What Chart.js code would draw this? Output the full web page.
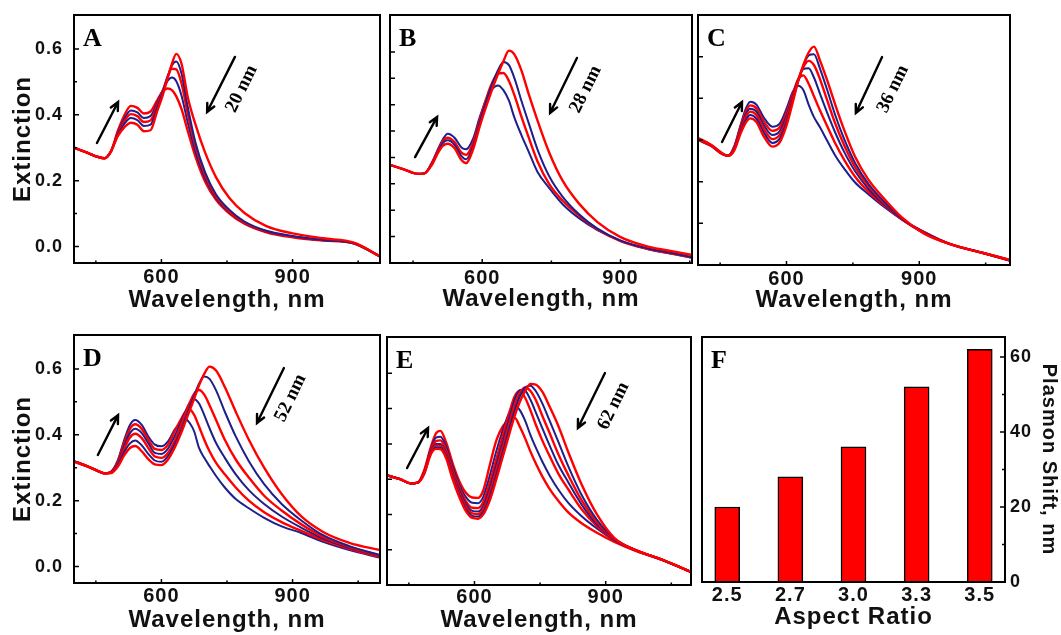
<!DOCTYPE html>
<html>
<head>
<meta charset="utf-8">
<script src="https://cdn.jsdelivr.net/npm/chart.js@4.4.1/dist/chart.umd.min.js"></script>
<style>
  body { margin: 0; background: #fff; }
  #fig { position: relative; width: 1061px; height: 635px; overflow: hidden; }
  canvas { position: absolute; }
</style>
</head>
<body>
<div id="fig">
  <canvas id="pA" width="386" height="318" style="left:0;top:0"></canvas>
  <canvas id="pB" width="310" height="318" style="left:386px;top:0"></canvas>
  <canvas id="pC" width="365" height="318" style="left:696px;top:0"></canvas>
  <canvas id="pD" width="386" height="315" style="left:0;top:320px"></canvas>
  <canvas id="pE" width="310" height="315" style="left:386px;top:320px"></canvas>
  <canvas id="pF" width="365" height="315" style="left:696px;top:320px"></canvas>
</div>
<script>
// tick positions
const wlTicks = [450, 600, 750, 900, 1050];
const wlLabeled = [600, 900];
const extTicks = [0, 0.1, 0.2, 0.3, 0.4, 0.5, 0.6];
const bTicks = [0.1, 0.2, 0.3, 0.4, 0.5, 0.6, 0.7, 0.8];
const cTicks = [0.1, 0.2, 0.3, 0.4, 0.5];
const eTicks = [0.1, 0.2, 0.3, 0.4, 0.5, 0.6];

// panel A spectra
const wlA = [400, 430, 455, 470, 485, 500, 515, 530, 545, 560, 575, 590, 602, 614, 624, 634, 646, 660, 678, 700, 725, 755, 790, 840, 900, 970, 1040, 1100];
const A1 = [0.300, 0.285, 0.272, 0.268, 0.290, 0.335, 0.362, 0.376, 0.370, 0.350, 0.353, 0.410, 0.455, 0.510, 0.555, 0.585, 0.555, 0.455, 0.370, 0.285, 0.210, 0.148, 0.102, 0.062, 0.040, 0.025, 0.012, -0.030];
const A2 = [0.300, 0.285, 0.272, 0.268, 0.290, 0.338, 0.372, 0.390, 0.384, 0.366, 0.370, 0.420, 0.463, 0.515, 0.550, 0.562, 0.525, 0.425, 0.315, 0.225, 0.158, 0.112, 0.076, 0.048, 0.032, 0.020, 0.010, -0.030];
const A3 = [0.300, 0.285, 0.272, 0.268, 0.290, 0.342, 0.380, 0.402, 0.396, 0.378, 0.383, 0.428, 0.468, 0.515, 0.540, 0.538, 0.495, 0.405, 0.305, 0.218, 0.152, 0.107, 0.073, 0.046, 0.030, 0.020, 0.010, -0.030];
const A4 = [0.300, 0.285, 0.272, 0.268, 0.290, 0.346, 0.388, 0.413, 0.407, 0.390, 0.396, 0.435, 0.472, 0.503, 0.513, 0.502, 0.458, 0.378, 0.288, 0.207, 0.147, 0.104, 0.071, 0.045, 0.030, 0.019, 0.010, -0.030];
const A5 = [0.300, 0.285, 0.272, 0.268, 0.290, 0.350, 0.398, 0.427, 0.421, 0.404, 0.410, 0.443, 0.470, 0.480, 0.475, 0.456, 0.417, 0.352, 0.272, 0.197, 0.142, 0.101, 0.069, 0.043, 0.028, 0.018, 0.010, -0.030];

// panel B
const wlB = [400, 430, 460, 475, 490, 505, 515, 525, 540, 555, 565, 580, 595, 610, 622, 634, 646, 658, 670, 685, 700, 720, 745, 775, 810, 850, 900, 960, 1020, 1055];
const B1 = [0.372, 0.355, 0.338, 0.340, 0.370, 0.420, 0.445, 0.452, 0.435, 0.390, 0.378, 0.430, 0.520, 0.600, 0.660, 0.715, 0.765, 0.805, 0.790, 0.730, 0.645, 0.540, 0.420, 0.310, 0.225, 0.155, 0.098, 0.062, 0.042, 0.030];
const B2 = [0.372, 0.355, 0.338, 0.340, 0.372, 0.425, 0.455, 0.465, 0.448, 0.405, 0.393, 0.440, 0.535, 0.620, 0.680, 0.730, 0.762, 0.750, 0.700, 0.615, 0.535, 0.430, 0.330, 0.250, 0.185, 0.130, 0.085, 0.055, 0.035, 0.022];
const B3 = [0.372, 0.355, 0.338, 0.340, 0.375, 0.430, 0.462, 0.475, 0.458, 0.418, 0.410, 0.455, 0.545, 0.630, 0.685, 0.718, 0.720, 0.690, 0.635, 0.555, 0.480, 0.385, 0.300, 0.235, 0.180, 0.128, 0.083, 0.053, 0.033, 0.021];
const B4 = [0.372, 0.355, 0.338, 0.340, 0.378, 0.435, 0.470, 0.490, 0.475, 0.438, 0.431, 0.470, 0.555, 0.625, 0.660, 0.673, 0.655, 0.615, 0.550, 0.485, 0.425, 0.345, 0.285, 0.222, 0.170, 0.125, 0.085, 0.052, 0.032, 0.020];

// panel C
const wlC = [400, 430, 455, 468, 482, 496, 508, 518, 532, 548, 568, 585, 600, 614, 626, 638, 650, 662, 676, 692, 710, 730, 755, 785, 820, 860, 910, 970, 1040, 1105];
const C1 = [0.305, 0.288, 0.268, 0.262, 0.275, 0.315, 0.342, 0.352, 0.343, 0.310, 0.284, 0.295, 0.335, 0.390, 0.440, 0.480, 0.510, 0.524, 0.490, 0.443, 0.385, 0.325, 0.260, 0.205, 0.160, 0.115, 0.076, 0.050, 0.030, 0.012];
const C2 = [0.304, 0.288, 0.268, 0.262, 0.277, 0.319, 0.348, 0.360, 0.351, 0.319, 0.293, 0.304, 0.343, 0.395, 0.440, 0.478, 0.503, 0.506, 0.470, 0.420, 0.360, 0.303, 0.245, 0.195, 0.153, 0.112, 0.077, 0.050, 0.030, 0.012];
const C3 = [0.303, 0.287, 0.267, 0.262, 0.279, 0.323, 0.355, 0.368, 0.360, 0.328, 0.302, 0.313, 0.350, 0.400, 0.442, 0.475, 0.490, 0.480, 0.445, 0.395, 0.340, 0.288, 0.235, 0.190, 0.150, 0.111, 0.077, 0.050, 0.030, 0.012];
const C4 = [0.302, 0.287, 0.267, 0.262, 0.281, 0.327, 0.362, 0.375, 0.368, 0.337, 0.312, 0.322, 0.358, 0.405, 0.445, 0.470, 0.472, 0.450, 0.410, 0.365, 0.318, 0.272, 0.225, 0.183, 0.146, 0.110, 0.078, 0.050, 0.030, 0.011];
const C5 = [0.301, 0.286, 0.266, 0.262, 0.283, 0.331, 0.368, 0.383, 0.376, 0.346, 0.322, 0.331, 0.366, 0.410, 0.445, 0.455, 0.435, 0.405, 0.370, 0.333, 0.292, 0.253, 0.212, 0.176, 0.143, 0.110, 0.079, 0.050, 0.030, 0.011];
const C6 = [0.300, 0.285, 0.266, 0.262, 0.285, 0.335, 0.375, 0.392, 0.385, 0.355, 0.332, 0.340, 0.375, 0.415, 0.430, 0.420, 0.385, 0.355, 0.330, 0.298, 0.263, 0.232, 0.198, 0.170, 0.140, 0.110, 0.080, 0.050, 0.030, 0.010];

// panel D
const wlD = [400, 430, 455, 470, 485, 500, 515, 528, 540, 555, 570, 585, 600, 615, 630, 645, 655, 665, 675, 686, 698, 710, 725, 745, 770, 800, 835, 875, 920, 970, 1030, 1100];
const D1 = [0.318, 0.304, 0.290, 0.283, 0.284, 0.303, 0.338, 0.360, 0.366, 0.350, 0.326, 0.310, 0.308, 0.325, 0.360, 0.405, 0.440, 0.475, 0.510, 0.550, 0.585, 0.607, 0.595, 0.545, 0.470, 0.385, 0.300, 0.220, 0.152, 0.105, 0.072, 0.050];
const D2 = [0.319, 0.304, 0.290, 0.283, 0.285, 0.308, 0.348, 0.374, 0.383, 0.368, 0.342, 0.322, 0.318, 0.335, 0.370, 0.415, 0.450, 0.485, 0.520, 0.555, 0.577, 0.570, 0.535, 0.470, 0.395, 0.320, 0.250, 0.190, 0.140, 0.095, 0.062, 0.035];
const D3 = [0.319, 0.305, 0.290, 0.283, 0.286, 0.312, 0.358, 0.392, 0.403, 0.390, 0.360, 0.334, 0.330, 0.345, 0.380, 0.430, 0.465, 0.498, 0.525, 0.536, 0.522, 0.490, 0.445, 0.385, 0.325, 0.270, 0.215, 0.170, 0.128, 0.090, 0.060, 0.033];
const D4 = [0.320, 0.305, 0.290, 0.283, 0.287, 0.315, 0.367, 0.405, 0.418, 0.405, 0.374, 0.345, 0.342, 0.358, 0.395, 0.440, 0.472, 0.498, 0.508, 0.495, 0.460, 0.420, 0.375, 0.330, 0.280, 0.232, 0.190, 0.152, 0.118, 0.085, 0.057, 0.031];
const D5 = [0.320, 0.305, 0.290, 0.283, 0.288, 0.318, 0.376, 0.418, 0.432, 0.418, 0.385, 0.357, 0.354, 0.370, 0.410, 0.448, 0.470, 0.476, 0.460, 0.425, 0.385, 0.350, 0.315, 0.280, 0.240, 0.200, 0.165, 0.135, 0.108, 0.080, 0.054, 0.029];
const D6 = [0.320, 0.305, 0.290, 0.283, 0.288, 0.322, 0.385, 0.430, 0.445, 0.430, 0.395, 0.370, 0.365, 0.380, 0.415, 0.440, 0.448, 0.435, 0.410, 0.360, 0.330, 0.305, 0.275, 0.240, 0.205, 0.177, 0.148, 0.122, 0.102, 0.075, 0.050, 0.027];

// panel E
const wlE = [400, 430, 455, 470, 485, 500, 512, 522, 535, 550, 565, 580, 595, 608, 620, 635, 650, 665, 680, 692, 704, 716, 728, 740, 755, 772, 792, 815, 845, 880, 920, 970, 1030, 1095];
const E1 = [0.311, 0.300, 0.288, 0.290, 0.315, 0.370, 0.386, 0.385, 0.360, 0.300, 0.250, 0.210, 0.190, 0.188, 0.200, 0.240, 0.300, 0.365, 0.430, 0.480, 0.520, 0.550, 0.570, 0.568, 0.548, 0.505, 0.450, 0.375, 0.285, 0.200, 0.133, 0.098, 0.071, 0.037];
const E2 = [0.311, 0.300, 0.288, 0.290, 0.316, 0.372, 0.390, 0.390, 0.365, 0.306, 0.256, 0.216, 0.196, 0.194, 0.207, 0.250, 0.312, 0.378, 0.445, 0.495, 0.535, 0.560, 0.565, 0.550, 0.515, 0.465, 0.405, 0.335, 0.255, 0.185, 0.132, 0.098, 0.071, 0.037];
const E3 = [0.311, 0.300, 0.288, 0.290, 0.317, 0.375, 0.395, 0.395, 0.370, 0.312, 0.262, 0.223, 0.203, 0.201, 0.215, 0.262, 0.326, 0.392, 0.460, 0.510, 0.545, 0.560, 0.550, 0.525, 0.480, 0.430, 0.370, 0.310, 0.240, 0.178, 0.130, 0.098, 0.071, 0.037];
const E4 = [0.311, 0.300, 0.288, 0.290, 0.318, 0.378, 0.400, 0.400, 0.375, 0.318, 0.270, 0.230, 0.210, 0.208, 0.224, 0.275, 0.340, 0.407, 0.475, 0.525, 0.553, 0.550, 0.525, 0.490, 0.445, 0.395, 0.340, 0.290, 0.228, 0.172, 0.128, 0.098, 0.071, 0.037];
const E5 = [0.311, 0.300, 0.288, 0.290, 0.320, 0.382, 0.408, 0.410, 0.383, 0.325, 0.277, 0.238, 0.219, 0.218, 0.235, 0.290, 0.357, 0.425, 0.490, 0.535, 0.550, 0.530, 0.495, 0.455, 0.410, 0.365, 0.315, 0.270, 0.215, 0.167, 0.127, 0.098, 0.071, 0.037];
const E6 = [0.311, 0.300, 0.288, 0.290, 0.322, 0.386, 0.418, 0.420, 0.393, 0.335, 0.285, 0.250, 0.233, 0.232, 0.250, 0.310, 0.380, 0.440, 0.490, 0.508, 0.495, 0.465, 0.425, 0.390, 0.350, 0.310, 0.270, 0.232, 0.195, 0.160, 0.126, 0.097, 0.071, 0.037];
const E7 = [0.311, 0.300, 0.288, 0.290, 0.325, 0.390, 0.430, 0.437, 0.405, 0.345, 0.295, 0.262, 0.248, 0.247, 0.268, 0.340, 0.410, 0.450, 0.470, 0.474, 0.448, 0.415, 0.378, 0.345, 0.308, 0.272, 0.238, 0.205, 0.175, 0.148, 0.122, 0.096, 0.071, 0.037];

// panel F
const aspectRatios = ['2.5', '2.7', '3.0', '3.3', '3.5'];
const plasmonShift = [20, 28, 36, 52, 62];
const shiftTicks = [0, 10, 20, 30, 40, 50, 60];

const RED = '#ff0000';
const BLUE = '#1d1f8c';
const SANS = '"Liberation Sans", Arial, sans-serif';
const SERIF = '"Liberation Serif", "Times New Roman", serif';
const INK = '#111';

// box, inner ticks, panel letter and arrows
const framePlugin = {
  id: 'frame',
  beforeDraw(chart) {
    chart.ctx.letterSpacing = '1px';
  },
  afterDraw(chart, args, o) {
    const { ctx, chartArea: a, scales } = chart;
    ctx.save();
    ctx.letterSpacing = '0px';
    ctx.strokeStyle = '#000';
    ctx.fillStyle = '#000';
    ctx.lineWidth = 1.5;
    ctx.beginPath();
    if (o.xMarks) {
      scales.x.ticks.forEach((t) => {
        const px = scales.x.getPixelForValue(t.value);
        const len = wlLabeled.includes(t.value) ? 4 : 2.5;
        ctx.moveTo(px, a.bottom);
        ctx.lineTo(px, a.bottom - len);
      });
    }
    const ys = scales.y;
    ys.ticks.forEach((t) => {
      const py = ys.getPixelForValue(t.value);
      const len = o.yMinor && o.yMinor(t.value) ? 3 : 5;
      if (ys.position === 'right') {
        ctx.moveTo(a.right, py);
        ctx.lineTo(a.right - len, py);
      } else {
        ctx.moveTo(a.left, py);
        ctx.lineTo(a.left + len, py);
      }
    });
    ctx.stroke();

    ctx.lineWidth = 2;
    ctx.strokeRect(a.left, a.top, a.width, a.height);

    ctx.font = `bold 26px ${SERIF}`;
    ctx.textBaseline = 'alphabetic';
    ctx.textAlign = 'left';
    ctx.fillText(o.letter, a.left + 9, a.top + 31);

    ctx.lineWidth = 2.4;
    ctx.lineCap = 'round';
    (o.arrows || []).forEach(([fx1, fy1, fx2, fy2]) => {
      const x1 = a.left + fx1 * a.width, y1 = a.top + fy1 * a.height;
      const x2 = a.left + fx2 * a.width, y2 = a.top + fy2 * a.height;
      const ang = Math.atan2(y2 - y1, x2 - x1);
      ctx.beginPath();
      ctx.moveTo(x1, y1);
      ctx.lineTo(x2, y2);
      ctx.moveTo(x2 - 9 * Math.cos(ang - 0.45), y2 - 9 * Math.sin(ang - 0.45));
      ctx.lineTo(x2, y2);
      ctx.lineTo(x2 - 9 * Math.cos(ang + 0.45), y2 - 9 * Math.sin(ang + 0.45));
      ctx.stroke();
    });

    if (o.note) {
      ctx.translate(a.left + o.note.fx * a.width, a.top + o.note.fy * a.height);
      ctx.rotate(-64 * Math.PI / 180);
      ctx.font = `bold 19px ${SERIF}`;
      ctx.textAlign = 'center';
      ctx.textBaseline = 'middle';
      ctx.fillText(o.note.text, 0, 0);
    }
    ctx.restore();
  }
};

function spectrum(wl, vals, i) {
  const red = i % 2 === 0;
  return {
    data: wl.map((w, k) => ({ x: w, y: vals[k] })),
    borderColor: red ? RED : BLUE,
    borderWidth: red ? 2.4 : 2,
    pointRadius: 0,
    cubicInterpolationMode: 'monotone',
    fill: false
  };
}

function makeSpectra(id, wl, series, o) {
  new Chart(document.getElementById(id), {
    type: 'line',
    data: { datasets: series.map((vals, i) => spectrum(wl, vals, i)) },
    options: {
      responsive: false,
      animation: false,
      events: [],
      layout: { padding: o.pad },
      plugins: {
        legend: { display: false },
        tooltip: { enabled: false },
        frame: o.frame
      },
      scales: {
        x: {
          type: 'linear',
          min: 400,
          max: o.xMax,
          grid: { display: false, drawTicks: false },
          border: { display: false },
          afterBuildTicks: (s) => { s.ticks = wlTicks.map((v) => ({ value: v })); },
          afterFit: (s) => { s.height = o.xHeight; s.paddingLeft = 0; s.paddingRight = 0; },
          ticks: {
            autoSkip: false,
            maxRotation: 0,
            padding: o.xTickPad,
            color: INK,
            font: { family: SANS, size: 20, weight: 'bold' },
            callback: (v) => (wlLabeled.includes(v) ? String(v) : '')
          },
          title: {
            display: true,
            text: 'Wavelength, nm',
            color: INK,
            font: { family: SANS, size: 24, weight: 'bold' },
            padding: { top: 0, bottom: o.xTitlePad }
          }
        },
        y: {
          min: o.yMin,
          max: o.yMax,
          grid: { display: false, drawTicks: false },
          border: { display: false },
          afterBuildTicks: (s) => { s.ticks = o.yTicks.map((v) => ({ value: v })); },
          afterFit: (s) => { s.width = o.yWidth; s.paddingTop = 0; s.paddingBottom = 0; },
          ticks: {
            display: o.yLabels,
            autoSkip: false,
            padding: 11,
            color: INK,
            font: { family: SANS, size: 18, weight: 'bold' },
            callback: (v) => (Math.round(v * 10) % 2 === 0 ? v.toFixed(1) : '')
          },
          title: {
            display: o.yLabels,
            text: 'Extinction',
            color: INK,
            font: { family: SANS, size: 24, weight: 'bold' },
            padding: { top: 9, bottom: 0 }
          }
        }
      }
    },
    plugins: [framePlugin]
  });
}

const extMinor = (v) => Math.round(v * 10) % 2 === 1;

makeSpectra('pA', wlA, [A1, A2, A3, A4, A5], {
  pad: { left: 0, top: 15, right: 6, bottom: 0 },
  xMax: 1100, yMin: -0.05, yMax: 0.703, yTicks: extTicks, yLabels: true,
  yWidth: 74, xHeight: 55, xTickPad: 2, xTitlePad: 3,
  frame: {
    letter: 'A', xMarks: true, yMinor: extMinor,
    arrows: [[0.075, 0.516, 0.144, 0.351], [0.526, 0.169, 0.435, 0.391]],
    note: { text: '20 nm', fx: 0.548, fy: 0.298 }
  }
});

makeSpectra('pB', wlB, [B1, B2, B3, B4], {
  pad: { left: 0, top: 15, right: 4, bottom: 0 },
  xMax: 1055, yMin: 0, yMax: 0.94, yTicks: bTicks, yLabels: false,
  yWidth: 4, xHeight: 55, xTickPad: 3, xTitlePad: 4,
  frame: {
    letter: 'B', xMarks: true,
    arrows: [[0.083, 0.573, 0.156, 0.411], [0.619, 0.173, 0.530, 0.395]],
    note: { text: '28 nm', fx: 0.648, fy: 0.30 }
  }
});

makeSpectra('pC', wlC, [C1, C2, C3, C4, C5, C6], {
  pad: { left: 0, top: 15, right: 51, bottom: 0 },
  xMax: 1105, yMin: 0, yMax: 0.6, yTicks: cTicks, yLabels: false,
  yWidth: 2, xHeight: 53, xTickPad: 2, xTitlePad: 3,
  frame: {
    letter: 'C', xMarks: true,
    arrows: [[0.59, 0.168, 0.506, 0.392], [0.077, 0.508, 0.141, 0.348]],
    note: { text: '36 nm', fx: 0.625, fy: 0.296 }
  }
});

makeSpectra('pD', wlD, [D1, D2, D3, D4, D5, D6], {
  pad: { left: 0, top: 15, right: 6, bottom: 0 },
  xMax: 1100, yMin: -0.05, yMax: 0.703, yTicks: extTicks, yLabels: true,
  yWidth: 74, xHeight: 52, xTickPad: 1, xTitlePad: 0,
  frame: {
    letter: 'D', xMarks: true, yMinor: extMinor,
    arrows: [[0.078, 0.484, 0.144, 0.323], [0.686, 0.133, 0.598, 0.355]],
    note: { text: '52 nm', fx: 0.708, fy: 0.254 }
  }
});

makeSpectra('pE', wlE, [E1, E2, E3, E4, E5, E6, E7], {
  pad: { left: 0, top: 17, right: 5, bottom: 0 },
  xMax: 1095, yMin: 0, yMax: 0.703, yTicks: eTicks, yLabels: false,
  yWidth: 1, xHeight: 50, xTickPad: 0, xTitlePad: 0,
  frame: {
    letter: 'E', xMarks: true,
    arrows: [[0.066, 0.528, 0.135, 0.367], [0.717, 0.145, 0.628, 0.367]],
    note: { text: '62 nm', fx: 0.745, fy: 0.278 }
  }
});

// panel F: plasmon shift vs aspect ratio
new Chart(document.getElementById('pF'), {
  type: 'bar',
  data: {
    datasets: [{
      data: plasmonShift.map((v, i) => ({ x: i, y: v })),
      backgroundColor: RED,
      borderColor: '#000',
      borderWidth: 1.5,
      barThickness: 25
    }]
  },
  options: {
    responsive: false,
    animation: false,
    events: [],
    layout: { padding: { left: 6, top: 17, right: 0, bottom: 0 } },
    plugins: {
      legend: { display: false },
      tooltip: { enabled: false },
      frame: { letter: 'F', xMarks: false, yMinor: (v) => v % 20 !== 0 }
    },
    scales: {
      x: {
        type: 'linear',
        offset: false,
        min: -0.4,
        max: 4.4,
        grid: { display: false, drawTicks: false, offset: false },
        border: { display: false },
        afterBuildTicks: (s) => { s.ticks = aspectRatios.map((r, i) => ({ value: i })); },
        afterFit: (s) => { s.height = 53; s.paddingLeft = 0; s.paddingRight = 0; },
        ticks: {
          autoSkip: false,
          maxRotation: 0,
          padding: 1,
          color: INK,
          font: { family: SANS, size: 20, weight: 'bold' },
          callback: (v) => aspectRatios[v] ?? ''
        },
        title: {
          display: true,
          text: 'Aspect Ratio',
          color: INK,
          font: { family: SANS, size: 24, weight: 'bold' },
          padding: { top: 0, bottom: 3 }
        }
      },
      y: {
        position: 'right',
        min: 0,
        max: 65.3,
        grid: { display: false, drawTicks: false },
        border: { display: false },
        afterBuildTicks: (s) => { s.ticks = shiftTicks.map((v) => ({ value: v })); },
        afterFit: (s) => { s.width = 56; s.paddingTop = 0; s.paddingBottom = 0; },
        ticks: {
          autoSkip: false,
          padding: 5,
          color: INK,
          font: { family: SANS, size: 18, weight: 'bold' },
          callback: (v) => (v % 20 === 0 ? String(v) : '')
        },
        title: {
          display: true,
          text: 'Plasmon Shift, nm',
          color: INK,
          font: { family: SANS, size: 20, weight: 'bold' },
          padding: { top: 0, bottom: 0 }
        }
      }
    }
  },
  plugins: [framePlugin]
});
</script>
</body>
</html>
